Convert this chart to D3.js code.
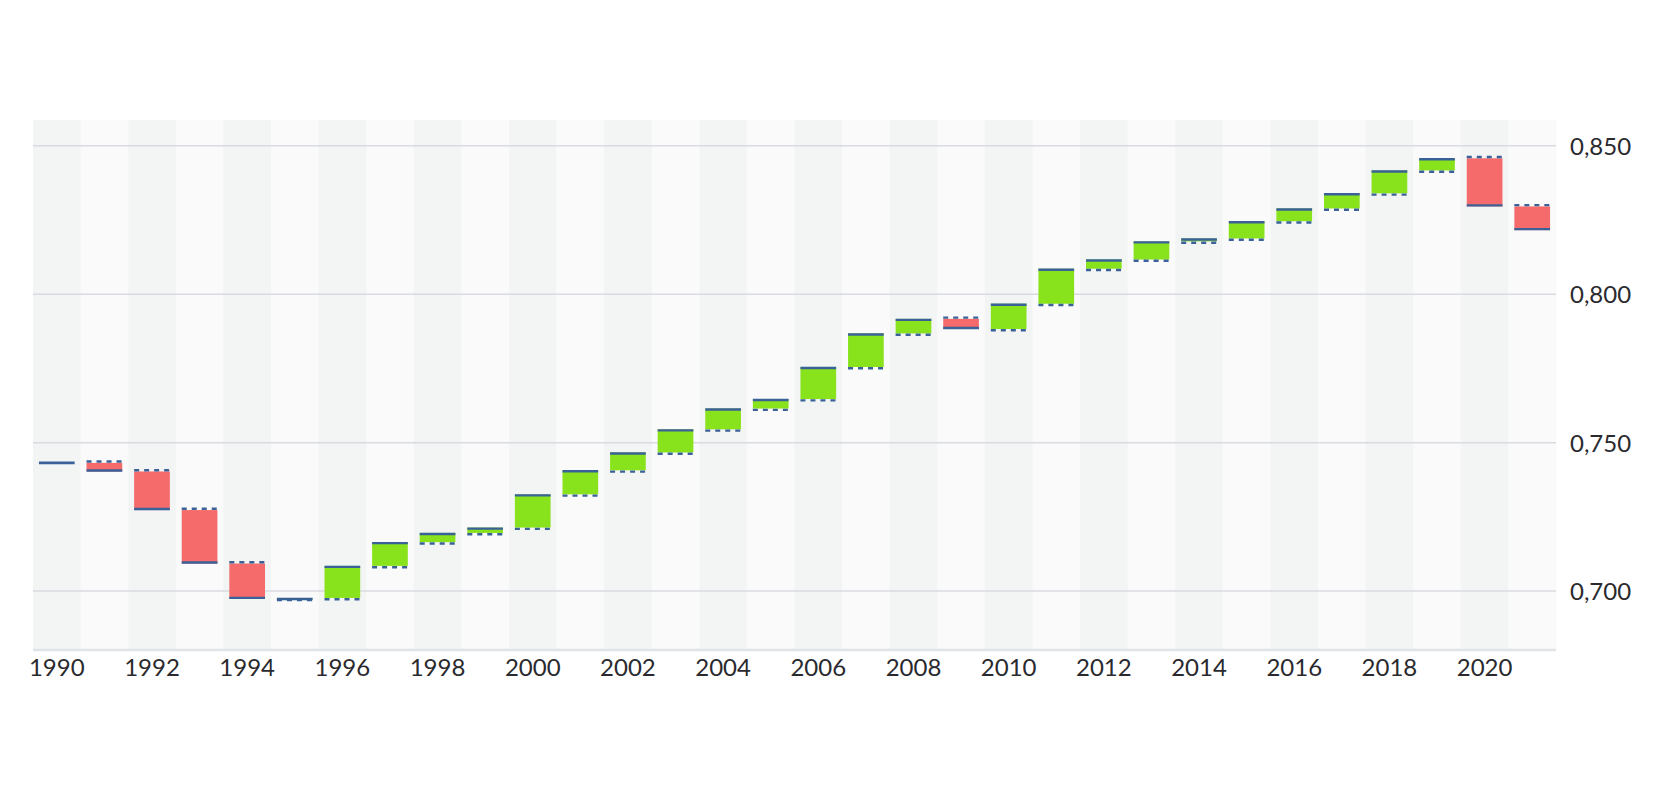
<!DOCTYPE html>
<html>
<head>
<meta charset="utf-8">
<script src="https://cdn.jsdelivr.net/npm/d3@7"></script>
<style>
  html, body { margin: 0; padding: 0; background: #ffffff; }
  svg { display: block; }
</style>
</head>
<body>
<svg id="chart" width="1680" height="801"></svg>
<script>
// ---- data ----
const years = [1990,1991,1992,1993,1994,1995,1996,1997,1998,1999,2000,2001,2002,2003,2004,2005,
               2006,2007,2008,2009,2010,2011,2012,2013,2014,2015,2016,2017,2018,2019,2020,2021];
const values = [0.7432,0.7403,0.7273,0.7093,0.6974,0.6977,0.7085,0.7165,0.7196,0.7214,0.7326,0.7407,
                0.7467,0.7545,0.7615,0.7647,0.7755,0.7868,0.7917,0.7883,0.7968,0.8086,0.8117,0.8178,
                0.8188,0.8246,0.8289,0.8340,0.8417,0.8458,0.8296,0.8216];
const yTicks = [0.700, 0.750, 0.800, 0.850];
const xTickYears = [1990,1992,1994,1996,1998,2000,2002,2004,2006,2008,2010,2012,2014,2016,2018,2020];

(function () {
// ---- layout ----
const svg = d3.select("#chart");
const pLeft = 33, pRight = 1556, pTop = 120, pBottom = 649;

const x = d3.scaleBand().domain(years).range([pLeft, pRight]).padding(0);
const y = d3.scaleLinear().domain([0.6805, 0.8587]).range([pBottom, pTop]);

const fmt = v => d3.format(".3f")(v).replace(".", ",");

// alternating column bands
svg.append("g").selectAll("rect").data(years).join("rect")
  .attr("x", d => x(d))
  .attr("y", pTop)
  .attr("width", x.bandwidth() + 0.5)
  .attr("height", pBottom - pTop)
  .attr("fill", (d, i) => i % 2 === 0 ? "#f3f5f5" : "#fafafa");

// horizontal gridlines
svg.append("g").selectAll("line").data(yTicks).join("line")
  .attr("x1", pLeft).attr("x2", pRight)
  .attr("y1", d => y(d)).attr("y2", d => y(d))
  .attr("stroke", "#d8dbdf").attr("stroke-width", 1.5);

// bottom axis line
svg.append("line")
  .attr("x1", pLeft).attr("x2", pRight)
  .attr("y1", pBottom + 1).attr("y2", pBottom + 1)
  .attr("stroke", "#e1e4e7").attr("stroke-width", 2.5);

// y-axis labels on the right
const yAxis = d3.axisRight(y).tickValues(yTicks).tickFormat(fmt).tickSize(0).tickPadding(0);
const gy = svg.append("g").attr("transform", `translate(${pRight + 14},0)`).call(yAxis);
gy.select(".domain").remove();
gy.selectAll("text")
  .attr("font-family", "Lato, 'Open Sans', sans-serif")
  .attr("font-size", 24)
  .attr("fill", "#2a2a2e")
  .attr("dy", "0.35em");

// x-axis labels
const xAxis = d3.axisBottom(x).tickValues(xTickYears).tickSize(0).tickPadding(0);
const gx = svg.append("g").attr("transform", `translate(0,${pBottom})`).call(xAxis);
gx.select(".domain").remove();
gx.selectAll("text")
  .attr("font-family", "Lato, 'Open Sans', sans-serif")
  .attr("font-size", 24)
  .attr("fill", "#2a2a2e")
  .attr("y", 27)
  .attr("dy", 0);

// waterfall bars
const inset = x.bandwidth() * 0.125;
const bw = x.bandwidth() - 2 * inset;
const data = years.map((yr, i) => ({ yr, cur: values[i], prev: i > 0 ? values[i - 1] : null }));

const gb = svg.append("g");
const lineColor = "#3a6198";

data.forEach(d => {
  const x0 = x(d.yr) + inset, x1 = x0 + bw;
  if (d.prev !== null) {
    const up = d.cur >= d.prev;
    const yT = y(Math.max(d.cur, d.prev));
    const yB = y(Math.min(d.cur, d.prev));
    gb.append("rect")
      .attr("x", x0).attr("y", yT)
      .attr("width", bw).attr("height", Math.max(0.5, yB - yT))
      .attr("fill", up ? "#89e31c" : "#f56a6a");
    // dashed line at previous value (drawn just outside the bar)
    const yp = y(d.prev) + (up ? 1.3 : -1.3);
    gb.append("line")
      .attr("x1", x0).attr("x2", x1)
      .attr("y1", yp).attr("y2", yp)
      .attr("stroke", lineColor).attr("stroke-width", 2.4)
      .attr("stroke-dasharray", "5,5");
    // solid line at current value (just inside the bar)
    const yc = y(d.cur) + (up ? 1 : -1);
    gb.append("line")
      .attr("x1", x0).attr("x2", x1)
      .attr("y1", yc).attr("y2", yc)
      .attr("stroke", lineColor).attr("stroke-width", 2.4);
  } else {
    gb.append("line")
      .attr("x1", x0).attr("x2", x1)
      .attr("y1", y(d.cur)).attr("y2", y(d.cur))
      .attr("stroke", lineColor).attr("stroke-width", 2.6);
  }
});
})();
</script>
</body>
</html>
